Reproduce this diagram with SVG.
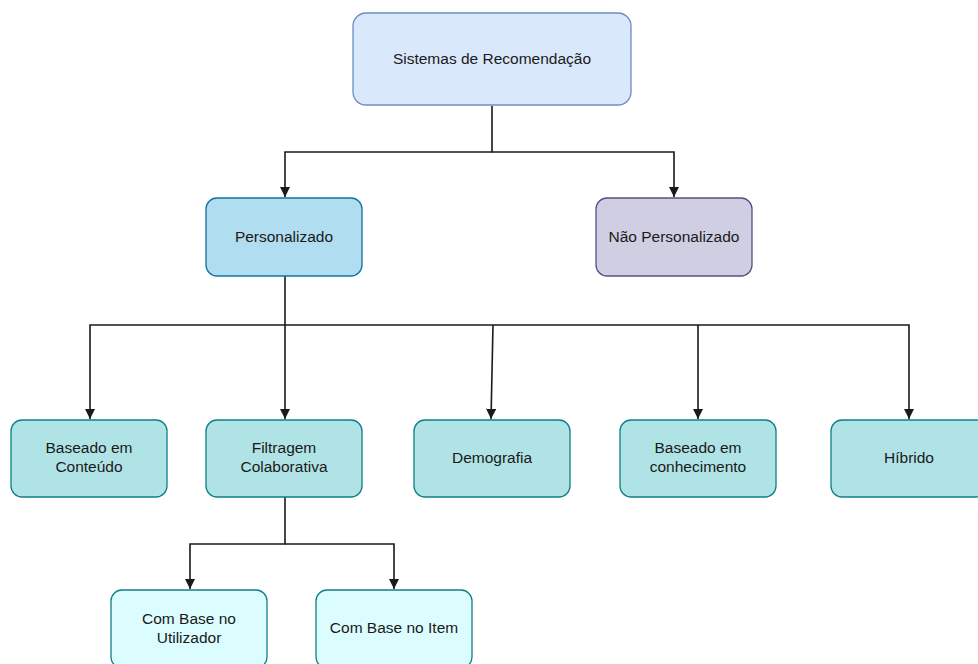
<svg xmlns="http://www.w3.org/2000/svg" width="978" height="664" viewBox="0 0 978 664">
  <style>
    .lbl { font-family: "Liberation Sans", Arial, sans-serif; font-size: 15.5px; fill: #1a1a1a; text-anchor: middle; }
    .edge { fill: none; stroke: #1a1a1a; stroke-width: 1.6; }
    .root { fill: #dae8fc; stroke: #6c8ebf; stroke-width: 1.3; }
    .pers { fill: #b1ddf0; stroke: #10739e; stroke-width: 1.3; }
    .npers { fill: #d0cee2; stroke: #56517e; stroke-width: 1.3; }
    .tech { fill: #b0e3e6; stroke: #0e8088; stroke-width: 1.3; }
    .sub { fill: #dcfdff; stroke: #0e8088; stroke-width: 1.3; }
  </style>
  <defs>
    <marker id="arrow" viewBox="0 0 10 10" refX="10" refY="5" markerWidth="6.5" markerHeight="6.5" markerUnits="strokeWidth" orient="auto">
      <path d="M0,0 L10,5 L0,10 z" fill="#1a1a1a"/>
    </marker>
  </defs>
  <rect width="978" height="664" fill="#ffffff"/>

  <g id="connectors">
    <!-- root to first level -->
    <path class="edge" d="M492,106 V152 H285 V197" marker-end="url(#arrow)"/>
    <path class="edge" d="M492,152 H674 V197" marker-end="url(#arrow)"/>
    <!-- Personalizado to techniques -->
    <path class="edge" d="M285,276 V419" marker-end="url(#arrow)"/>
    <path class="edge" d="M285,325 H90 V419" marker-end="url(#arrow)"/>
    <path class="edge" d="M285,325 H909 V419" marker-end="url(#arrow)"/>
    <path class="edge" d="M493,325 L491,419" marker-end="url(#arrow)"/>
    <path class="edge" d="M698,325 V419" marker-end="url(#arrow)"/>
    <!-- Filtragem Colaborativa to its variants -->
    <path class="edge" d="M285,497 V544 H190 V589" marker-end="url(#arrow)"/>
    <path class="edge" d="M285,544 H394 V589" marker-end="url(#arrow)"/>
  </g>

  <g id="sistemas">
    <rect class="root" x="353" y="13" width="278" height="92" rx="13"/>
    <text class="lbl" x="492" y="64">Sistemas de Recomendação</text>
  </g>
  <g id="personalizado">
    <rect class="pers" x="206" y="198" width="156" height="78" rx="11"/>
    <text class="lbl" x="284" y="242">Personalizado</text>
  </g>
  <g id="nao-personalizado">
    <rect class="npers" x="596" y="198" width="156" height="78" rx="11"/>
    <text class="lbl" x="674" y="242">Não Personalizado</text>
  </g>
  <g id="conteudo">
    <rect class="tech" x="11" y="420" width="156" height="77" rx="11"/>
    <text class="lbl" x="89" y="453">Baseado em</text>
    <text class="lbl" x="89" y="472">Conteúdo</text>
  </g>
  <g id="filtragem">
    <rect class="tech" x="206" y="420" width="156" height="77" rx="11"/>
    <text class="lbl" x="284" y="453">Filtragem</text>
    <text class="lbl" x="284" y="472">Colaborativa</text>
  </g>
  <g id="demografia">
    <rect class="tech" x="414" y="420" width="156" height="77" rx="11"/>
    <text class="lbl" x="492" y="463">Demografia</text>
  </g>
  <g id="conhecimento">
    <rect class="tech" x="620" y="420" width="156" height="77" rx="11"/>
    <text class="lbl" x="698" y="453">Baseado em</text>
    <text class="lbl" x="698" y="472">conhecimento</text>
  </g>
  <g id="hibrido">
    <rect class="tech" x="831" y="420" width="156" height="77" rx="11"/>
    <text class="lbl" x="909" y="463">Híbrido</text>
  </g>
  <g id="utilizador">
    <rect class="sub" x="111" y="590" width="156" height="78" rx="11"/>
    <text class="lbl" x="189" y="624">Com Base no</text>
    <text class="lbl" x="189" y="643">Utilizador</text>
  </g>
  <g id="item">
    <rect class="sub" x="316" y="590" width="156" height="78" rx="11"/>
    <text class="lbl" x="394" y="633">Com Base no Item</text>
  </g>
</svg>
